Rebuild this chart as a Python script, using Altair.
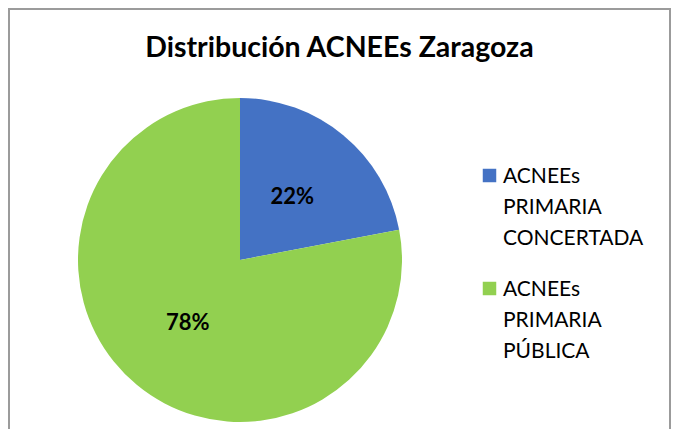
import altair as alt
import pandas as pd

categories = ["ACNEEs PRIMARIA CONCERTADA", "ACNEEs PRIMARIA PÚBLICA"]
values = [22, 78]
labels = ["22%", "78%"]
colors = ["#4472C4", "#92D050"]
title_text = "Distribución ACNEEs Zaragoza"

df = pd.DataFrame({"categoria": categories, "valor": values, "etiqueta": labels})

W, H = 663, 421
CX, CY = 232, 252

legend = alt.Legend(
    title=None, orient="none", legendX=471, legendY=157,
    labelExpr="split(datum.label, ' ')",
    labelFont="Lato", labelFontSize=21, labelColor="black",
    symbolType="square", symbolSize=182, symbolStrokeWidth=0,
    labelOffset=3, rowPadding=29, padding=0, labelBaseline="top",
    labelLimit=400,
)

base = alt.Chart(df).encode(
    theta=alt.Theta("valor:Q", stack=True),
    order=alt.Order("categoria:N"),
    detail="categoria:N",
)

pie = base.mark_arc(outerRadius=162, x=CX, y=CY).encode(
    color=alt.Color("categoria:N", scale=alt.Scale(domain=categories, range=colors), legend=legend)
)

text = base.mark_text(radius=82, x=CX, y=CY, font="Lato", fontWeight="bold",
                      fontSize=22).encode(
    text="etiqueta:N",
    color=alt.value("black"),
)

frame = alt.Chart(pd.DataFrame({"marco": [0]})).mark_rect(
    fillOpacity=0, stroke="#9b9b9b", strokeWidth=2
).encode(
    x=alt.value(1), x2=alt.value(W - 1), y=alt.value(1), y2=alt.value(H + 40)
)

chart = (frame + pie + text).properties(
    width=W, height=H,
    autosize=alt.AutoSizeParams(type="none"),
    padding=0,
    background="white",
    title=alt.TitleParams(title_text, font="Lato", fontSize=28.5, fontWeight="bold",
                          color="black", anchor="middle", offset=-49, dy=28,
                          baseline="alphabetic"),
).configure_view(
    stroke=None
).configure(
    style={"guide-label": {"lineHeight": 31, "dy": -10}}
)

chart.save("out.html", embed_options={"renderer": "svg", "actions": False})
